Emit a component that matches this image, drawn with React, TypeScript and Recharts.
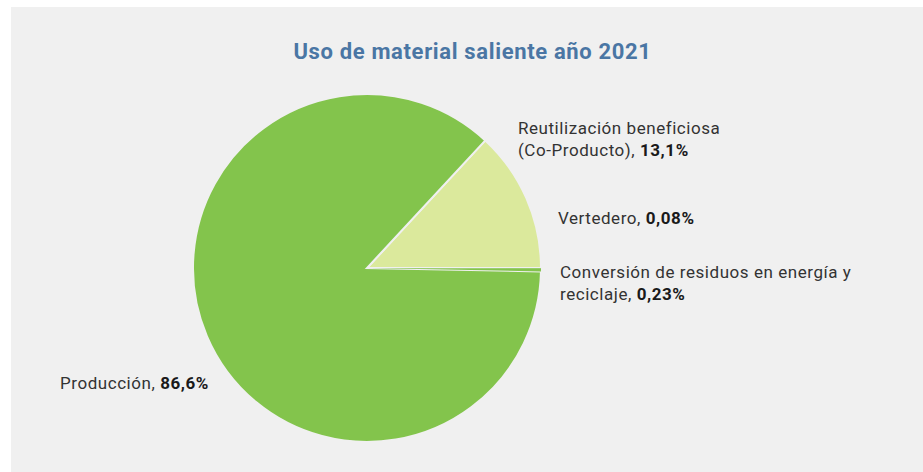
import { PieChart, Pie, Cell } from "recharts";

const categories = [
  "Reutilización beneficiosa (Co-Producto)",
  "Producción",
  "Conversión de residuos en energía y reciclaje",
  "Vertedero",
];
const shares = [13.1, 86.6, 0.23, 0.08];
const shareLabels = ["13,1%", "86,6%", "0,23%", "0,08%"];
const labelLines = [
  ["Reutilización beneficiosa", "(Co-Producto), "],
  ["Producción, "],
  ["Conversión de residuos en energía y", "reciclaje, "],
  ["Vertedero, "],
];

const COLORS = ["#dbe99c", "#83c44c", "#83c44c", "#83c44c"];
// label offsets from the pie centre (first line, vertical centre)
const LABEL_OFFSETS = [
  { dx: 151, dy: -140 },
  { dx: -307, dy: 115 },
  { dx: 193, dy: 4 },
  { dx: 191, dy: -50 },
];

const data = categories.map((name, i) => ({ name, value: shares[i] }));

interface LabelProps {
  cx: number;
  cy: number;
  index: number;
}

function SliceLabel({ cx, cy, index }: LabelProps) {
  const off = LABEL_OFFSETS[index];
  const lines = labelLines[index];
  return (
    <text
      x={cx + off.dx}
      y={cy + off.dy}
      fill="#333333"
      fontSize={17}
      letterSpacing={0.55}
      fontFamily="Roboto, sans-serif"
      dominantBaseline="central"
    >
      {lines.map((line, j) => (
        <tspan key={j} x={cx + off.dx} dy={j === 0 ? 0 : 22}>
          {line}
          {j === lines.length - 1 && (
            <tspan fontWeight={700} fill="#1a1a1a">
              {shareLabels[index]}
            </tspan>
          )}
        </tspan>
      ))}
    </text>
  );
}

export default function App() {
  return (
    <div
      style={{
        position: "fixed",
        left: 0,
        top: 0,
        width: 923,
        height: 472,
        background: "#ffffff",
        fontFamily: "Roboto, sans-serif",
      }}
    >
      <div
        style={{
          position: "absolute",
          left: 11,
          top: 7,
          width: 912,
          height: 465,
          background: "#f0f0f0",
        }}
      />
      <div
        style={{
          position: "absolute",
          left: 0,
          top: 39,
          width: 945,
          textAlign: "center",
          color: "#4a76a4",
          fontSize: 22,
          letterSpacing: 0.65,
          fontWeight: 700,
        }}
      >
        Uso de material saliente año 2021
      </div>
      <div style={{ position: "absolute", left: 0, top: 0 }}>
        <PieChart width={923} height={472} margin={{ top: 0, right: 0, bottom: 0, left: 0 }}>
          <Pie
            data={data}
            dataKey="value"
            nameKey="name"
            cx={367}
            cy={268}
            outerRadius={174}
            startAngle={0}
            endAngle={360}
            stroke="#f0f0f0"
            strokeWidth={2}
            label={(p: any) => <SliceLabel cx={p.cx} cy={p.cy} index={p.index} />}
            labelLine={false}
            isAnimationActive={false}
          >
            {data.map((d, i) => (
              <Cell key={d.name} fill={COLORS[i]} stroke={i > 1 ? "none" : "#f0f0f0"} />
            ))}
          </Pie>
        </PieChart>
      </div>
    </div>
  );
}
